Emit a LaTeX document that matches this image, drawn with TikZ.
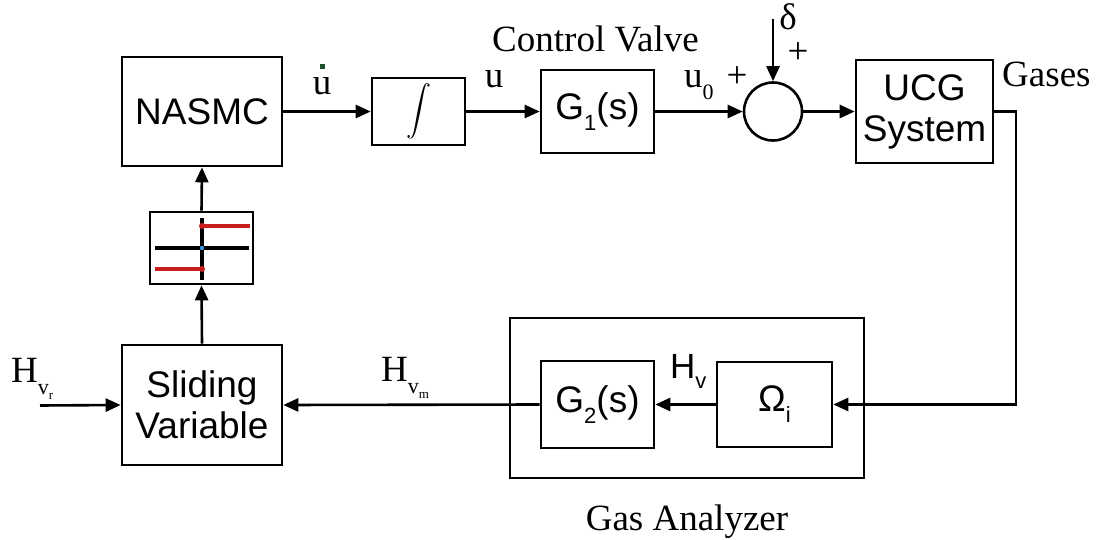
\documentclass[tikz,border=0pt]{standalone}
\usepackage{fontspec}
\setmainfont{Liberation Serif}
\newfontfamily\arialf{Liberation Sans}
\usetikzlibrary{arrows.meta}
\definecolor{relayred}{RGB}{200,30,30}
\definecolor{dotgreen}{RGB}{30,80,45}
\definecolor{dotblue}{RGB}{60,150,220}
\newcommand\mysub[2][0.3em]{\raisebox{-#1}{\fontsize{22}{22}\selectfont #2}}
\newcommand\mysubb[2][0.3em]{\raisebox{-#1}{\fontsize{13}{13}\selectfont #2}}
\begin{document}
\begin{tikzpicture}[x=1pt,y=-1pt,
  blk/.style={draw,line width=2.6pt,inner sep=0pt,align=center,
    font=\arialf\fontsize{37}{41}\selectfont},
  lbl/.style={inner sep=0pt,font=\fontsize{37}{41}\selectfont},
  slbl/.style={inner sep=0pt,font=\arialf\fontsize{35}{40}\selectfont},
  conn/.style={line width=2.6pt,-{Triangle[length=15pt,width=13pt]}},
  wire/.style={line width=2.6pt}]
\useasboundingbox (0,0) rectangle (1102,540);
% blocks
\node[blk,minimum width=160pt,minimum height=109pt] (nasmc) at (202,111.5) {NASMC};
\node[blk,minimum width=93pt,minimum height=67pt] (integ) at (418.5,111.5) {\normalsize\scalebox{2.5}{$\displaystyle\int$}};
\node[blk,minimum width=113pt,minimum height=83pt] (g1) at (597.5,111.5) {G\mysub{1}(s)};
\node[draw,circle,line width=2.6pt,minimum size=58pt,inner sep=0pt] (sum) at (773,111.5) {};
\node[blk,minimum width=137pt,minimum height=103pt] (ucg) at (924.5,111.5) {UCG\\System};
\node[draw,line width=2.6pt,minimum width=354pt,minimum height=160pt,inner sep=0pt] (gas) at (687,398) {};
\node[blk,minimum width=113pt,minimum height=87pt] (g2) at (597.5,404.5) {G\mysub{2}(s)};
\node[blk,minimum width=115pt,minimum height=85pt] (omega) at (774.5,404.5) {Ω\mysub{i}};
\node[blk,minimum width=160pt,minimum height=120pt] (sliding) at (202,405) {Sliding\\Variable};
\node[draw,line width=2.6pt,minimum width=103pt,minimum height=72pt,inner sep=0pt] (relay) at (201.5,248) {};
% relay characteristic
\draw[line width=4pt] (155,248) -- (249,248);
\draw[line width=4pt] (202,218) -- (202,280);
\draw[line width=4pt,relayred] (202,226) -- (250,226);
\draw[line width=4pt,relayred] (155,269) -- (202,269);
\fill[relayred] (202,226) circle (3pt);
\fill[relayred] (202,269) circle (3pt);
\fill[dotblue] (202,248) circle (2.2pt);
% coordinates
\coordinate (din) at (773,19);
\coordinate (hin) at (40,405.5);
\coordinate (c1) at (1016,111.5);
\coordinate (c2) at (1016,404.5);
% connectors
\draw[conn] (nasmc.east) -- (integ.west);
\draw[conn] (integ.east) -- (g1.west);
\draw[conn] (g1.east) -- (sum.west);
\draw[conn] (sum.east) -- (ucg.west);
\draw[conn] (din) -- (sum.north);
\draw[conn] (ucg.east) -- (c1) -- (c2) -- (omega.east);
\draw[conn] (omega.west) -- (g2.east);
\draw[conn] (g2.west) -- (sliding.east);
\draw[conn] (hin) -- (sliding.west);
\draw[conn] (sliding.north) -- (relay.south);
\draw[conn] (relay.north) -- (nasmc.south);
% labels
\node[lbl,anchor=base] (udot) at (322,95) {u};
\node[fill=dotgreen,minimum size=5pt,inner sep=0pt] (udotdot) at (322,66.5) {};
\node[lbl,anchor=base] (ulbl) at (494,88) {u};
\node[lbl,anchor=base] (cv) at (595.5,52) {Control Valve};
\node[lbl,anchor=base west] (u0) at (684,88) {u\mysub{0}};
\node[lbl,anchor=base] (plus1) at (737,88) {+};
\node[lbl,anchor=base] (delta) at (788,30) {δ};
\node[lbl,anchor=base] (plus2) at (798,64) {+};
\node[lbl,anchor=base west] (gases) at (1002,87) {Gases};
\node[lbl,anchor=base west] (hvr) at (11,382) {H\mysub[0.35em]{v\mysubb[0.2em]{r}}};
\node[lbl,anchor=base west] (hvm) at (381,381) {H\mysub[0.35em]{v\mysubb[0.2em]{m}}};
\node[slbl,anchor=base west] (hv) at (670,378) {H\mysub{v}};
\node[lbl,anchor=base] (galbl) at (687,530) {Gas Analyzer};
\end{tikzpicture}
\end{document}
